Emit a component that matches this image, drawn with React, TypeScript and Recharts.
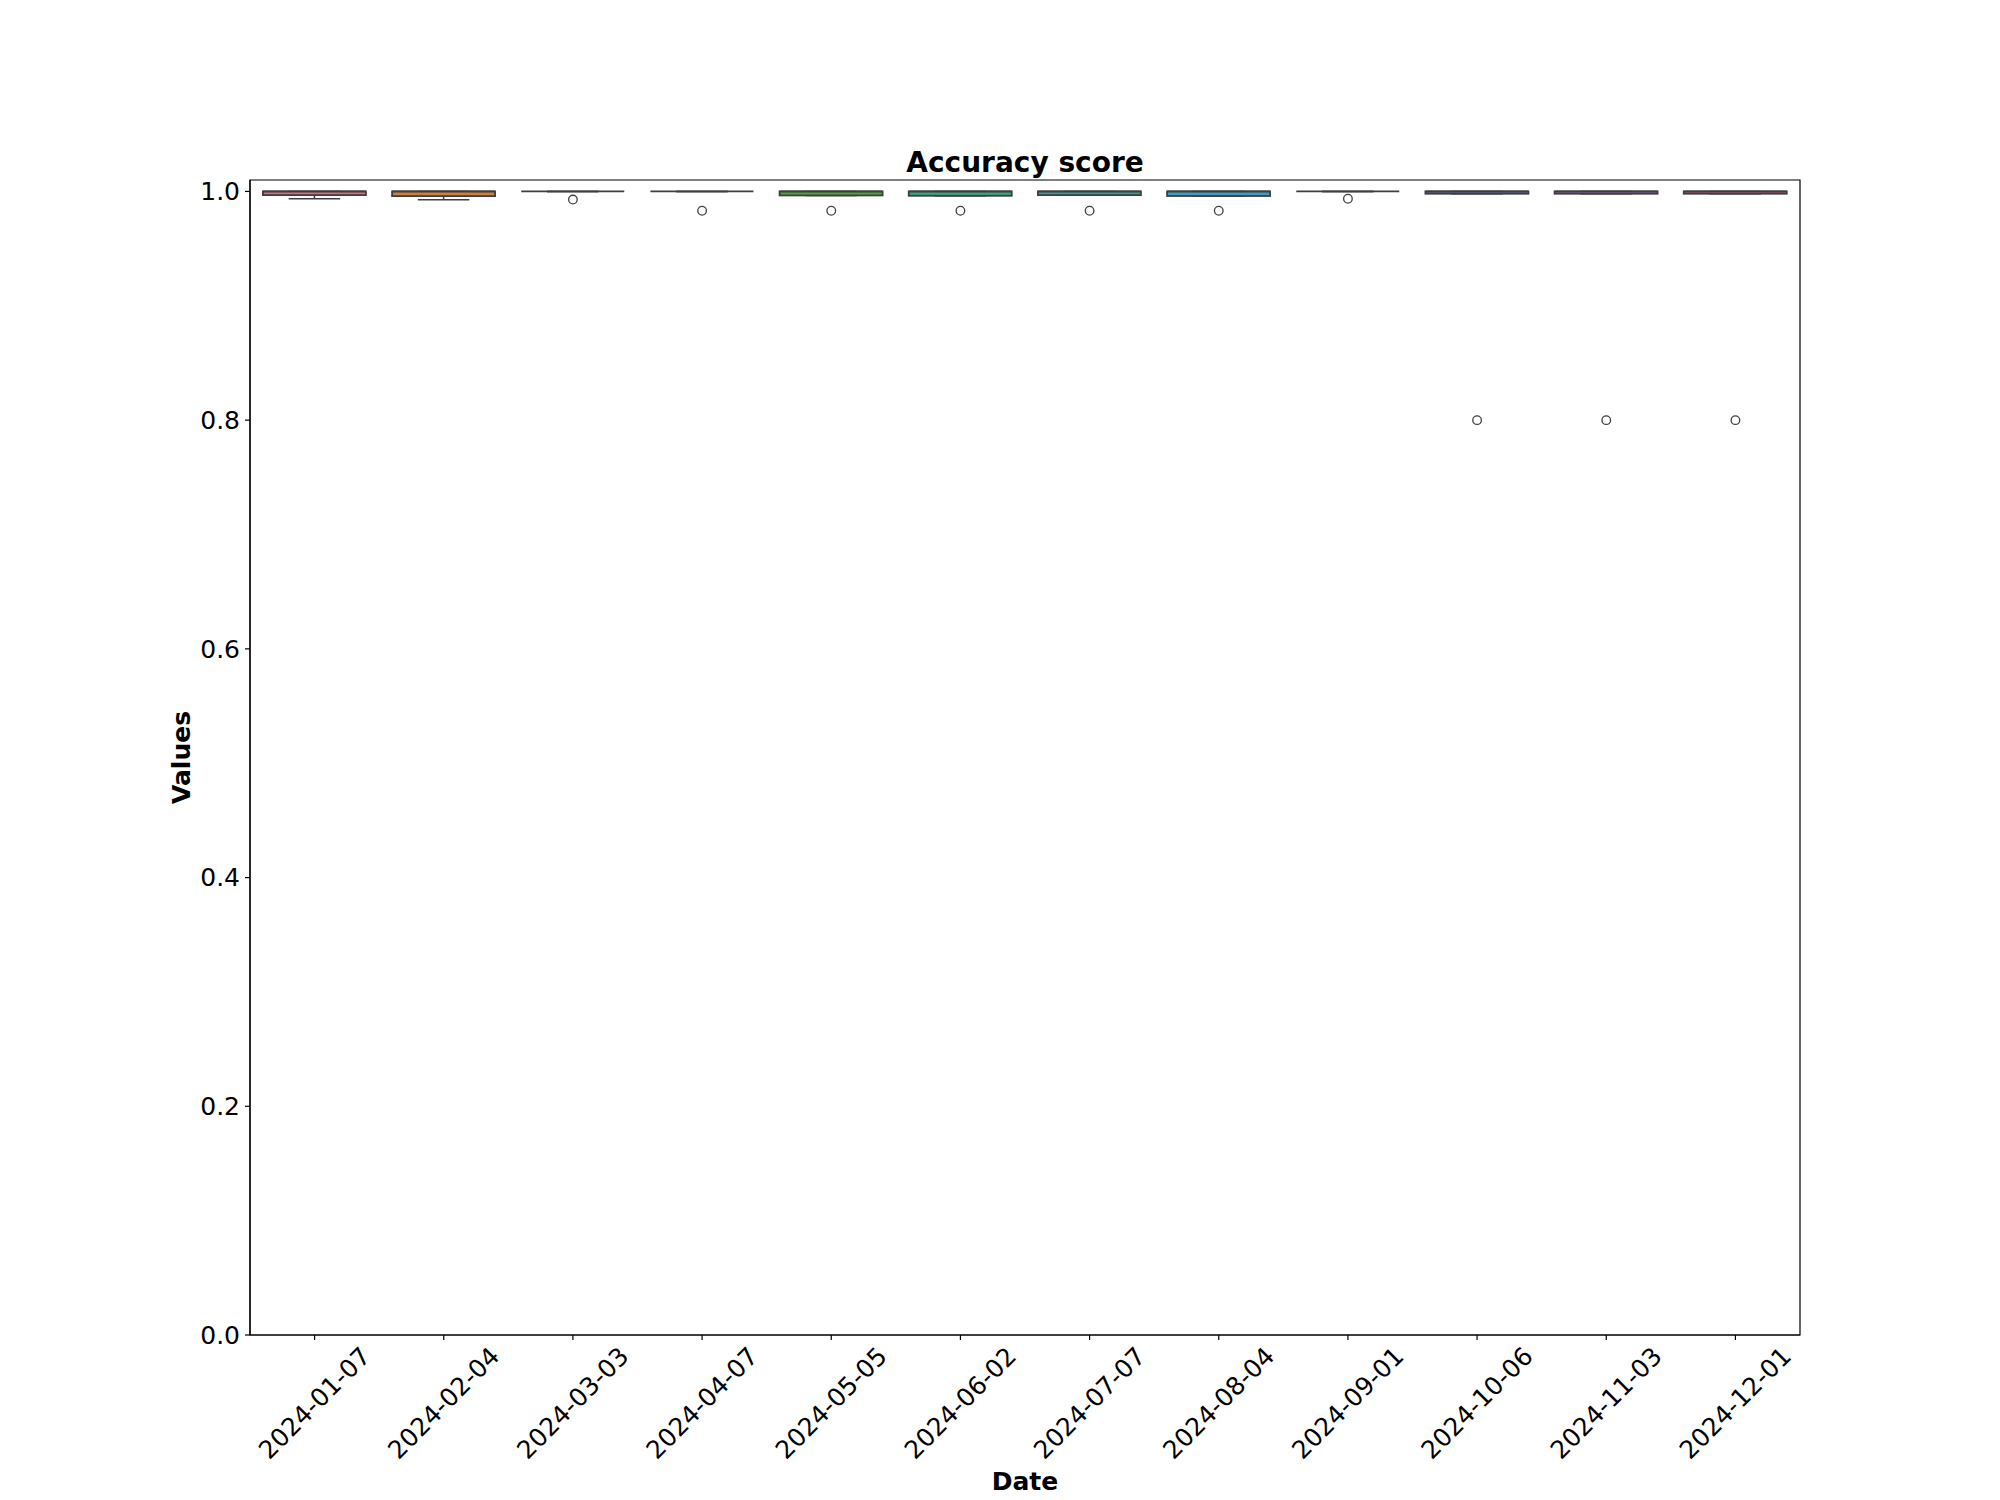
import React from 'react';
import { ComposedChart, Bar, Scatter, XAxis, YAxis, ReferenceArea } from 'recharts';

const dates = ['2024-01-07', '2024-02-04', '2024-03-03', '2024-04-07', '2024-05-05', '2024-06-02', '2024-07-07', '2024-08-04', '2024-09-01', '2024-10-06', '2024-11-03', '2024-12-01'];
const whiskerLow = [0.9936, 0.9927, 1.0, 1.0, 0.9965, 0.9962, 0.9968, 0.996, 1.0, 0.998, 0.998, 0.998];
const q1 = [0.9968, 0.9959, 1.0, 1.0, 0.9965, 0.9962, 0.9968, 0.996, 1.0, 0.998, 0.998, 0.998];
const median = [1.0, 1.0, 1.0, 1.0, 1.0, 1.0, 1.0, 1.0, 1.0, 1.0, 1.0, 1.0];
const q3 = [1.0, 1.0, 1.0, 1.0, 1.0, 1.0, 1.0, 1.0, 1.0, 1.0, 1.0, 1.0];
const whiskerHigh = [1.0, 1.0, 1.0, 1.0, 1.0, 1.0, 1.0, 1.0, 1.0, 1.0, 1.0, 1.0];
const outlierDates = ['2024-03-03', '2024-04-07', '2024-05-05', '2024-06-02', '2024-07-07', '2024-08-04', '2024-09-01', '2024-10-06', '2024-11-03', '2024-12-01'];
const outlierValues = [0.9929, 0.9831, 0.9831, 0.9831, 0.9831, 0.9831, 0.9936, 0.8, 0.8, 0.8];
const yTicks = [0, 0.2, 0.4, 0.6, 0.8, 1.0];

const boxColors = ['#e2697e', '#cd8038', '#a99635', '#879f35', '#4ea33b', '#37a67d', '#359e95', '#3a9ec3', '#6b93cf', '#6f7db3', '#a271c0', '#c56a9b'];
const LINE = '#3f3f3f';
const FONT = 'DejaVu Sans';

const data = dates.map((d, i) => {
  const oi = outlierDates.indexOf(d);
  return {
    date: d,
    wlo: whiskerLow[i],
    q1: q1[i],
    med: median[i],
    q3: q3[i],
    whi: whiskerHigh[i],
    out: oi >= 0 ? outlierValues[oi] : null,
  };
});

const BoxShape = (props: any) => {
  const { x, y, width, height, payload, index } = props;
  if (!payload) return null;
  const top = payload.q3;
  const base = y + height;
  const py = (v: number) => base - (v / top) * height;
  const cx = x + width / 2;
  const capHalf = width / 4;
  const yq1 = py(payload.q1);
  const yq3 = py(payload.q3);
  const ymed = py(payload.med);
  const ylo = py(payload.wlo);
  const yhi = py(payload.whi);
  return (
    <g>
      <line x1={cx} x2={cx} y1={yq1} y2={ylo} stroke={LINE} strokeWidth={1.5} />
      <line x1={cx} x2={cx} y1={yq3} y2={yhi} stroke={LINE} strokeWidth={1.5} />
      <line x1={cx - capHalf} x2={cx + capHalf} y1={ylo} y2={ylo} stroke={LINE} strokeWidth={1.5} />
      <line x1={cx - capHalf} x2={cx + capHalf} y1={yhi} y2={yhi} stroke={LINE} strokeWidth={1.5} />
      <rect x={x} y={yq3} width={width} height={Math.max(0, yq1 - yq3)} fill={boxColors[index % boxColors.length]} stroke={LINE} strokeWidth={1.8} />
      <line x1={x} x2={x + width} y1={ymed} y2={ymed} stroke={LINE} strokeWidth={1.8} />
    </g>
  );
};

const OutlierShape = (props: any) => {
  const { cx, cy, payload } = props;
  if (cx == null || cy == null || !payload || payload.out == null || Number.isNaN(cy)) return null;
  return <circle cx={cx} cy={cy} r={4.3} fill="#ffffff" stroke={LINE} strokeWidth={1.3} />;
};

const XTick = (props: any) => {
  const { x, y, payload } = props;
  const cy = y + 58;
  return (
    <text x={x} y={cy} transform={`rotate(-45 ${x} ${cy})`} textAnchor="middle" dominantBaseline="central" fontSize={25} fontFamily={FONT} fill="#000">
      {payload.value}
    </text>
  );
};

const XLabel = (props: any) => {
  const vb = props.viewBox || {};
  return (
    <text x={vb.x + vb.width / 2} y={vb.y + 146} textAnchor="middle" dominantBaseline="central" fontSize={25} fontWeight="bold" fontFamily={FONT} fill="#000">
      Date
    </text>
  );
};

const YLabel = (props: any) => {
  const vb = props.viewBox || {};
  const cx = 181;
  const cy = vb.y + vb.height / 2;
  return (
    <text x={cx} y={cy} transform={`rotate(-90 ${cx} ${cy})`} textAnchor="middle" dominantBaseline="central" fontSize={25} fontWeight="bold" fontFamily={FONT} fill="#000">
      Values
    </text>
  );
};

export default function App() {
  return (
    <div style={{ position: 'absolute', left: 0, top: 0, width: 2000, height: 1500, background: '#fff' }}>
      <div style={{ position: 'absolute', left: 250, top: 148, width: 1550, height: 30, lineHeight: '30px', textAlign: 'center', fontFamily: FONT, fontWeight: 'bold', fontSize: 28, color: '#000' }}>
        Accuracy score
      </div>
      <ComposedChart width={2000} height={1500} data={data} margin={{ top: 180, right: 200, bottom: 5, left: 0 }} barCategoryGap="10%">
        <XAxis
          dataKey="date"
          type="category"
          allowDuplicatedCategory={false}
          height={160}
          tick={<XTick />}
          tickSize={5}
          tickMargin={5}
          interval={0}
          axisLine={{ stroke: '#000', strokeWidth: 1.2 }}
          tickLine={{ stroke: '#000', strokeWidth: 1.2 }}
          label={<XLabel />}
        />
        <YAxis
          type="number"
          domain={[0, 1.01]}
          allowDataOverflow
          ticks={yTicks}
          tickFormatter={(v: number) => v.toFixed(1)}
          width={250}
          tickSize={5}
          tickMargin={5}
          tick={{ fontSize: 25, fill: '#000', fontFamily: FONT }}
          axisLine={{ stroke: '#000', strokeWidth: 1.2 }}
          tickLine={{ stroke: '#000', strokeWidth: 1.2 }}
          label={<YLabel />}
        />
        <ReferenceArea y1={0} y2={1.01} fill="none" fillOpacity={0} stroke="#000" strokeWidth={1.2} ifOverflow="visible" />
        <Bar dataKey="q3" shape={<BoxShape />} isAnimationActive={false} />
        <Scatter dataKey="out" shape={<OutlierShape />} isAnimationActive={false} />
      </ComposedChart>
    </div>
  );
}
